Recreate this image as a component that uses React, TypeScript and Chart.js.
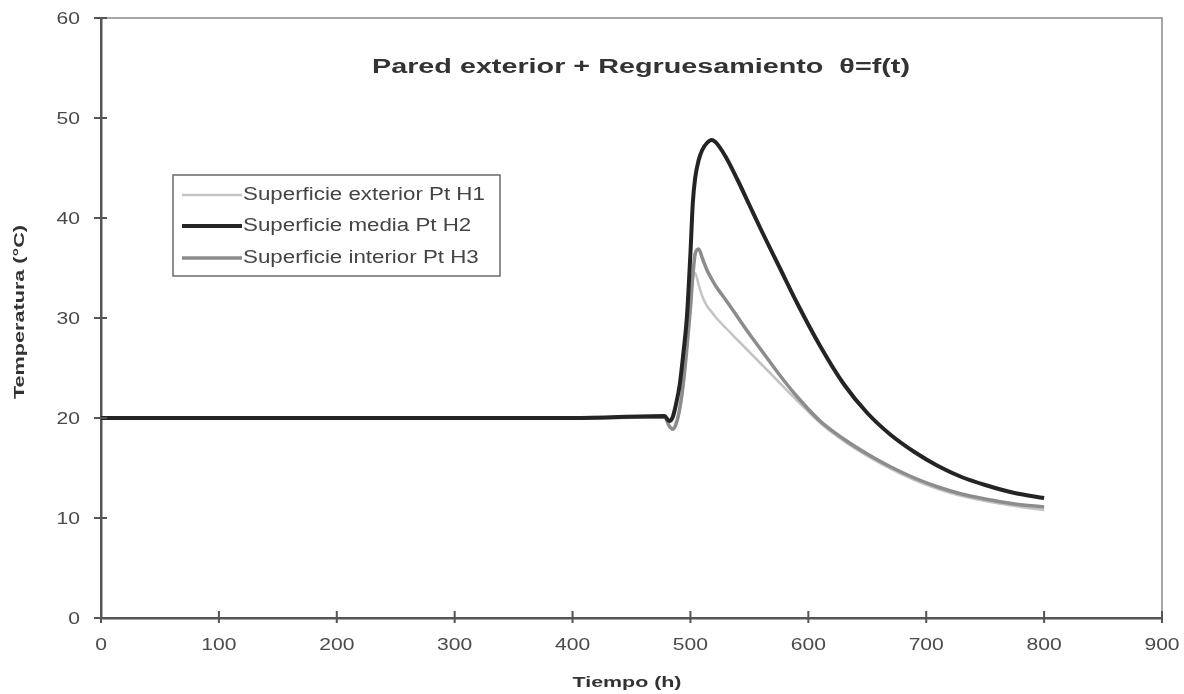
import React, { useEffect, useRef } from "react";
import { Chart, registerables } from "chart.js";

Chart.register(...registerables);

// ---- Data ----
const times = [0, 100, 200, 300, 400, 478, 482, 485, 488, 491, 494, 497, 500, 502, 504, 507, 510, 514, 518, 522, 530, 540, 550, 560, 575, 590, 610, 630, 650, 670, 690, 710, 730, 750, 775, 800];
const supExterior = [20, 20, 20, 20, 20, 20.1, 19.2, 18.8, 19.3, 20.8, 23.3, 27.0, 31.0, 33.8, 34.5, 33.3, 32.2, 31.2, 30.6, 30.0, 29.0, 27.8, 26.6, 25.4, 23.6, 21.8, 19.5, 17.7, 16.2, 14.9, 13.8, 12.9, 12.2, 11.7, 11.2, 10.8];
const supMedia = [20, 20, 20, 20, 20, 20.2, 19.7, 20.1, 21.5, 23.4, 26.5, 30.1, 36.5, 41.5, 44.0, 45.8, 46.8, 47.5, 47.8, 47.5, 46.1, 43.8, 41.3, 38.8, 35.2, 31.6, 27.2, 23.4, 20.5, 18.3, 16.6, 15.2, 14.1, 13.3, 12.5, 12.0];
const supInterior = [20, 20, 20, 20, 20, 20.1, 19.2, 18.9, 19.5, 21.0, 23.5, 27.0, 31.0, 34.2, 36.4, 36.9, 36.0, 34.8, 33.9, 33.1, 31.8, 30.1, 28.4, 26.8, 24.4, 22.2, 19.7, 17.9, 16.4, 15.1, 14.0, 13.1, 12.4, 11.9, 11.4, 11.1];
const seriesLabels = ["Superficie exterior Pt H1", "Superficie media Pt H2", "Superficie interior Pt H3"];
const chartTitle = "Pared exterior + Regruesamiento  θ=f(t)";
const xTitle = "Tiempo (h)";
const yTitle = "Temperatura (°C)";
const xMin = 0, xMax = 900, xStep = 100;
const yMin = 0, yMax = 60, yStep = 10;

const STRETCH = 1.24;

function drawStretched(ctx: CanvasRenderingContext2D, text: string, x: number, y: number, font: string, sx: number, align: CanvasTextAlign, color: string, rot = 0) {
  ctx.save();
  ctx.font = font;
  ctx.fillStyle = color;
  ctx.textBaseline = "middle";
  ctx.textAlign = align;
  ctx.translate(x, y);
  if (rot) ctx.rotate(rot);
  ctx.scale(sx, 1);
  ctx.fillText(text, 0, 0);
  ctx.restore();
}

function drawFitted(ctx: CanvasRenderingContext2D, text: string, x: number, y: number, font: string, width: number, align: CanvasTextAlign, color: string, rot = 0) {
  ctx.save();
  ctx.font = font;
  const w = ctx.measureText(text).width || 1;
  ctx.restore();
  drawStretched(ctx, text, x, y, font, width / w, align, color, rot);
}

const decor = {
  id: "decor",
  afterDraw(chart: any) {
    const { ctx, chartArea: ca } = chart;
    const xs = chart.scales.x;
    const ys = chart.scales.y;
    ctx.save();
    // top / right frame
    ctx.strokeStyle = "#8a8a8a";
    ctx.lineWidth = 1.5;
    ctx.beginPath();
    ctx.moveTo(ca.left, ca.top);
    ctx.lineTo(ca.right, ca.top);
    ctx.lineTo(ca.right, ca.bottom);
    ctx.stroke();
    // tick marks crossing the axes
    ctx.strokeStyle = "#555";
    ctx.lineWidth = 2;
    ctx.beginPath();
    xs.ticks.forEach((t: any) => {
      const px = xs.getPixelForValue(t.value);
      ctx.moveTo(px, ca.bottom - 7);
      ctx.lineTo(px, ca.bottom + 5);
    });
    ys.ticks.forEach((t: any) => {
      const py = ys.getPixelForValue(t.value);
      ctx.moveTo(ca.left - 7, py);
      ctx.lineTo(ca.left + 6, py);
    });
    ctx.stroke();
    ctx.restore();

    const tickFont = '17px "Liberation Sans", Arial, sans-serif';
    xs.ticks.forEach((t: any) => {
      drawStretched(ctx, String(t.value), xs.getPixelForValue(t.value), 645, tickFont, STRETCH, "center", "#4a4a4a");
    });
    ys.ticks.forEach((t: any) => {
      drawStretched(ctx, String(t.value), 80, ys.getPixelForValue(t.value) + 1, tickFont, STRETCH, "right", "#4a4a4a");
    });

    // titles
    drawFitted(ctx, chartTitle, 641, 67, 'bold 20px "Liberation Sans", Arial, sans-serif', 538, "center", "#333");
    drawFitted(ctx, xTitle, 627, 683, 'bold 15px "Liberation Sans", Arial, sans-serif', 109, "center", "#333");
    drawFitted(ctx, yTitle, 20, 312, 'bold 15px "Liberation Sans", Arial, sans-serif', 174, "center", "#333", -Math.PI / 2);

    // legend
    ctx.save();
    ctx.fillStyle = "#fff";
    ctx.fillRect(173, 175, 327, 101);
    ctx.strokeStyle = "#6a6a6a";
    ctx.lineWidth = 1.5;
    ctx.strokeRect(173, 175, 327, 101);
    const rows = [195, 226, 258];
    chart.data.datasets.forEach((ds: any, i: number) => {
      ctx.strokeStyle = ds.borderColor;
      ctx.lineWidth = ds.borderWidth;
      ctx.beginPath();
      ctx.moveTo(182, rows[i]);
      ctx.lineTo(242, rows[i]);
      ctx.stroke();
    });
    ctx.restore();
    chart.data.datasets.forEach((ds: any, i: number) => {
      drawStretched(ctx, ds.label, 243, rows[i], '18px "Liberation Sans", Arial, sans-serif', STRETCH, "left", "#444");
    });
  },
};

export default function App() {
  const ref = useRef<HTMLCanvasElement>(null);
  useEffect(() => {
    const ctx = ref.current!.getContext("2d")!;
    const mk = (vals: number[]) => times.map((t, i) => ({ x: t, y: vals[i] }));
    const chart = new Chart(ctx, {
      type: "line",
      data: {
        datasets: [
          { label: seriesLabels[0], data: mk(supExterior), borderColor: "#c4c4c4", borderWidth: 2.5, order: 2 },
          { label: seriesLabels[1], data: mk(supMedia), borderColor: "#242424", borderWidth: 4, order: 0 },
          { label: seriesLabels[2], data: mk(supInterior), borderColor: "#8c8c8c", borderWidth: 3.5, order: 1 },
        ],
      },
      options: {
        responsive: false,
        animation: false,
        elements: {
          point: { radius: 0 },
          line: { cubicInterpolationMode: "monotone", fill: false },
        },
        layout: { padding: { top: 18, right: 22, left: 0, bottom: 0 } },
        plugins: {
          legend: { display: false },
          tooltip: { enabled: false },
          title: { display: false },
        },
        scales: {
          x: {
            type: "linear",
            min: xMin,
            max: xMax,
            ticks: { display: false, stepSize: xStep },
            grid: { drawOnChartArea: false, drawTicks: false },
            border: { color: "#555", width: 2.5 },
            afterFit: (s: any) => { s.height = 76; },
          },
          y: {
            type: "linear",
            min: yMin,
            max: yMax,
            ticks: { display: false, stepSize: yStep },
            grid: { drawOnChartArea: false, drawTicks: false },
            border: { color: "#555", width: 2.5 },
            afterFit: (s: any) => { s.width = 101; },
          },
        },
      } as any,
      plugins: [decor],
    });
    return () => chart.destroy();
  }, []);
  return (
    <div style={{ position: "fixed", left: 0, top: 0, width: 1184, height: 694, background: "#fff" }}>
      <canvas ref={ref} width={1184} height={694} style={{ display: "block" }} />
    </div>
  );
}
